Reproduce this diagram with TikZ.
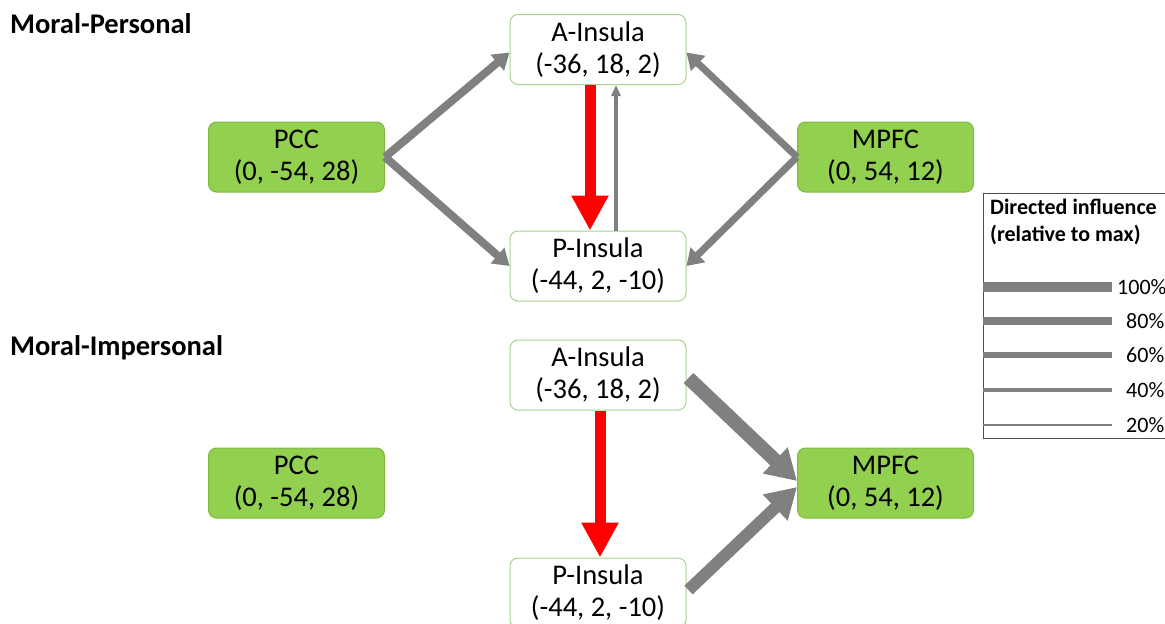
\documentclass[tikz,border=0pt]{standalone}
\usepackage{fontspec}
\setmainfont{Carlito}
\usetikzlibrary{arrows.meta}
\definecolor{gfill}{HTML}{92D050}
\definecolor{gdraw}{HTML}{7FB844}
\definecolor{lgdraw}{HTML}{A9D18E}
\definecolor{arrgray}{HTML}{808080}
\definecolor{arrred}{HTML}{FF0000}
\tikzset{
  region/.style={rounded corners=8pt, minimum width=176pt, minimum height=70pt, align=center, inner sep=0pt, font=\fontsize{28.5}{32}\selectfont, line width=1pt},
  greenbox/.style={region, fill=gfill, draw=gdraw},
  whitebox/.style={region, fill=white, draw=lgdraw},
  heading/.style={font=\bfseries\fontsize{28.5}{32}\selectfont, anchor=base west, inner sep=0pt},
  grayarrow/.style={draw=arrgray, line width=#1},
  redarrow/.style={draw=arrred, line width=11pt, -{Triangle[length=35pt,width=35pt]}},
  legline/.style={draw=arrgray, line width=#1},
  legtext/.style={font=\fontsize{22}{26}\selectfont, anchor=west, inner sep=0pt},
}
\begin{document}
\begin{tikzpicture}[x=1pt,y=-1pt]
\useasboundingbox (0,0) rectangle (1165,624);
% headings
\node[heading] (h1) at (10,33) {Moral-Personal};
\node[heading] (h2) at (10,355) {Moral-Impersonal};
% top panel
\node[whitebox] (ai1) at (598,49.5) {A-Insula\\(-36, 18, 2)};
\node[whitebox] (pi1) at (598,266) {P-Insula\\(-44, 2, -10)};
\node[greenbox] (pcc1) at (296.5,157) {PCC\\(0, -54, 28)};
\node[greenbox] (mp1) at (885.5,157) {MPFC\\(0, 54, 12)};
\draw[grayarrow=8pt, -{Triangle[length=16pt,width=20pt]}] (pcc1.east) -- ([yshift=-3pt]ai1.west);
\draw[grayarrow=8pt, -{Triangle[length=16pt,width=20pt]}] (pcc1.east) -- (pi1.west);
\draw[grayarrow=7pt, -{Triangle[length=16pt,width=20pt]}] (mp1.west) -- ([yshift=-3pt]ai1.east);
\draw[grayarrow=7pt, -{Triangle[length=16pt,width=20pt]}] (mp1.west) -- (pi1.east);
\draw[redarrow] ([xshift=-8pt]ai1.south) -- ([xshift=-8pt]pi1.north);
\draw[grayarrow=3.5pt, -{Triangle[length=11pt,width=9pt]}] ([xshift=18pt]pi1.north) -- ([xshift=18pt]ai1.south);
% bottom panel
\node[whitebox] (ai2) at (598,375) {A-Insula\\(-36, 18, 2)};
\node[whitebox] (pi2) at (598,593) {P-Insula\\(-44, 2, -10)};
\node[greenbox] (pcc2) at (296.5,483) {PCC\\(0, -54, 28)};
\node[greenbox] (mp2) at (885.5,483) {MPFC\\(0, 54, 12)};
\draw[redarrow] ([xshift=2pt]ai2.south) -- ([xshift=2pt]pi2.north);
\draw[grayarrow=14pt, -{Triangle[length=30pt,width=34pt]}] ([xshift=2pt,yshift=-3pt]ai2.east) -- ([yshift=2pt]mp2.west);
\draw[grayarrow=12pt, -{Triangle[length=30pt,width=34pt]}] ([xshift=2pt,yshift=3pt]pi2.east) -- ([yshift=-4pt]mp2.west);
% legend
\draw[black!70, line width=1pt] (983,193) rectangle (1180,438);
\node[font=\bfseries\fontsize{22}{27}\selectfont, anchor=north west, align=left, inner sep=0pt] (lt) at (990,199) {Directed influence\\(relative to max)};
\coordinate (l1a) at (983,287); \coordinate (l1b) at (1112,287);
\coordinate (l2a) at (983,321); \coordinate (l2b) at (1112,321);
\coordinate (l3a) at (983,355); \coordinate (l3b) at (1112,355);
\coordinate (l4a) at (983,390); \coordinate (l4b) at (1112,390);
\coordinate (l5a) at (983,425); \coordinate (l5b) at (1112,425);
\draw[legline=10pt] (l1a) -- (l1b);
\draw[legline=8.5pt] (l2a) -- (l2b);
\draw[legline=6.5pt] (l3a) -- (l3b);
\draw[legline=4.5pt] (l4a) -- (l4b);
\draw[legline=2.5pt] (l5a) -- (l5b);
\node[legtext] (p1) at (1117,287) {100\%};
\node[legtext] (p2) at (1126,321) {80\%};
\node[legtext] (p3) at (1126,355) {60\%};
\node[legtext] (p4) at (1126,390) {40\%};
\node[legtext] (p5) at (1126,425) {20\%};
\end{tikzpicture}
\end{document}
